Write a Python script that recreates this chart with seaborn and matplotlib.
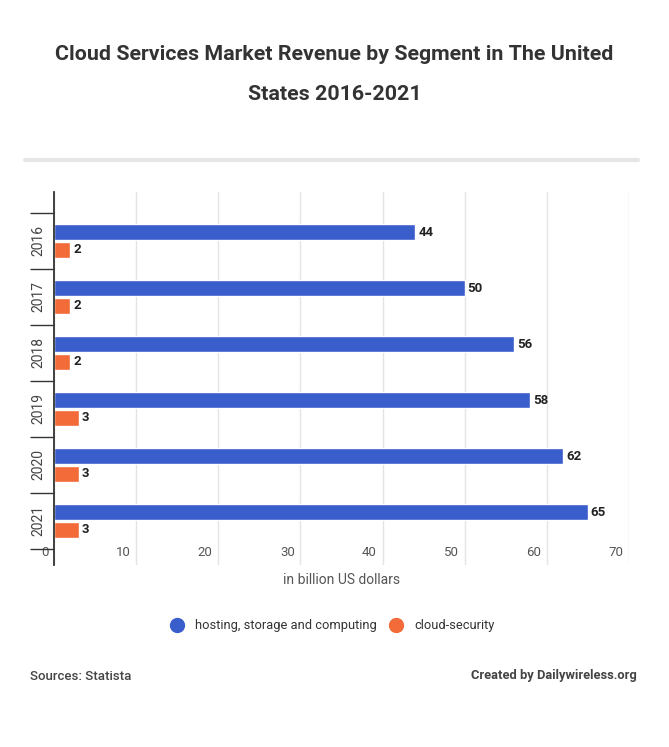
import matplotlib
matplotlib.use('Agg')
import matplotlib.pyplot as plt
import matplotlib.transforms as mtransforms
from matplotlib.lines import Line2D
import pandas as pd
import seaborn as sns

years = ['2016', '2017', '2018', '2019', '2020', '2021']
hosting = [44, 50, 56, 58, 62, 65]
security = [2, 2, 2, 3, 3, 3]
series_names = ['hosting, storage and computing', 'cloud-security']
colors = ['#3a5dcc', '#f26b38']
x_ticks = [0, 10, 20, 30, 40, 50, 60, 70]

df = pd.DataFrame({
    'Year': years * 2,
    'Value': hosting + security,
    'Segment': [series_names[0]] * len(years) + [series_names[1]] * len(years),
})

sns.set_style('white')
plt.rcParams['font.family'] = ['Roboto', 'DejaVu Sans']

W, H = 669, 747
fig = plt.figure(figsize=(W / 100, H / 100), dpi=100)
ax = fig.add_axes([54 / W, 1 - 565 / H, 575 / W, 373 / H])

sns.barplot(data=df, y='Year', x='Value', hue='Segment', orient='h',
            palette=colors, width=0.64, gap=0.1, ax=ax, legend=False,
            saturation=1)

for cont in ax.containers:
    ax.bar_label(cont, fmt='%d', padding=2, fontsize=9.5, fontweight='bold',
                 color='#222222')

ax.set_xlim(0, 70)
ax.set_ylim(5.786, -0.875)
ax.set_xticks(x_ticks)
ax.set_xticklabels([str(t) for t in x_ticks])
ax.grid(axis='x', color='#e4e4e4', lw=1)
ax.grid(axis='y', visible=False)
ax.set_axisbelow(True)
for s in ['top', 'right', 'bottom']:
    ax.spines[s].set_visible(False)
ax.spines['left'].set_color('#333333')
ax.spines['left'].set_linewidth(1.3)

ax.tick_params(axis='x', length=0, pad=-14, labelsize=9.5, labelcolor='#555555')
offset = mtransforms.ScaledTranslation(-4 / 72, 0, fig.dpi_scale_trans)
for lab in ax.get_xticklabels():
    lab.set_horizontalalignment('right')
    lab.set_transform(lab.get_transform() + offset)

ax.set_yticks(range(len(years)))
ax.set_yticklabels(years, rotation=90, va='center')
ax.set_yticks([i - 0.5 for i in range(len(years) + 1)], minor=True)
ax.tick_params(axis='y', which='major', length=0, pad=6, labelsize=10,
               labelcolor='#444444')
ax.tick_params(axis='y', which='minor', length=17, width=1, color='#333333',
               left=True)

ax.set_ylabel('')
ax.set_xlabel('in billion US dollars', fontsize=10, color='#555555', labelpad=6)

fig.text(0.5, 1 - 55 / H, 'Cloud Services Market Revenue by Segment in The United',
         ha='center', va='center', fontsize=15.4, fontweight='bold', color='#333333')
fig.text(0.5, 1 - 95 / H, 'States 2016-2021',
         ha='center', va='center', fontsize=15.4, fontweight='bold', color='#333333')
fig.add_artist(Line2D([25 / W, 638 / W], [1 - 160 / H, 1 - 160 / H],
                      lw=3, color='#e6e6e6'))

handles = [Line2D([], [], marker='o', ls='', markersize=10,
                  markerfacecolor=c, markeredgecolor=c) for c in colors]
fig.legend(handles, series_names, loc='center', bbox_to_anchor=(0.492, 1 - 626 / H),
           ncol=2, frameon=False, fontsize=9.3, handletextpad=0.4,
           columnspacing=0.5, labelcolor='#333333')

fig.text(30 / W, 1 - 676 / H, 'Sources: Statista', ha='left', va='center',
         fontsize=9.5, fontweight='medium', color='#444444')
fig.text(637 / W, 1 - 676 / H, 'Created by Dailywireless.org', ha='right',
         va='center', fontsize=9.3, fontweight='bold', color='#444444')

fig.savefig('out.png', dpi=100, facecolor='white')
